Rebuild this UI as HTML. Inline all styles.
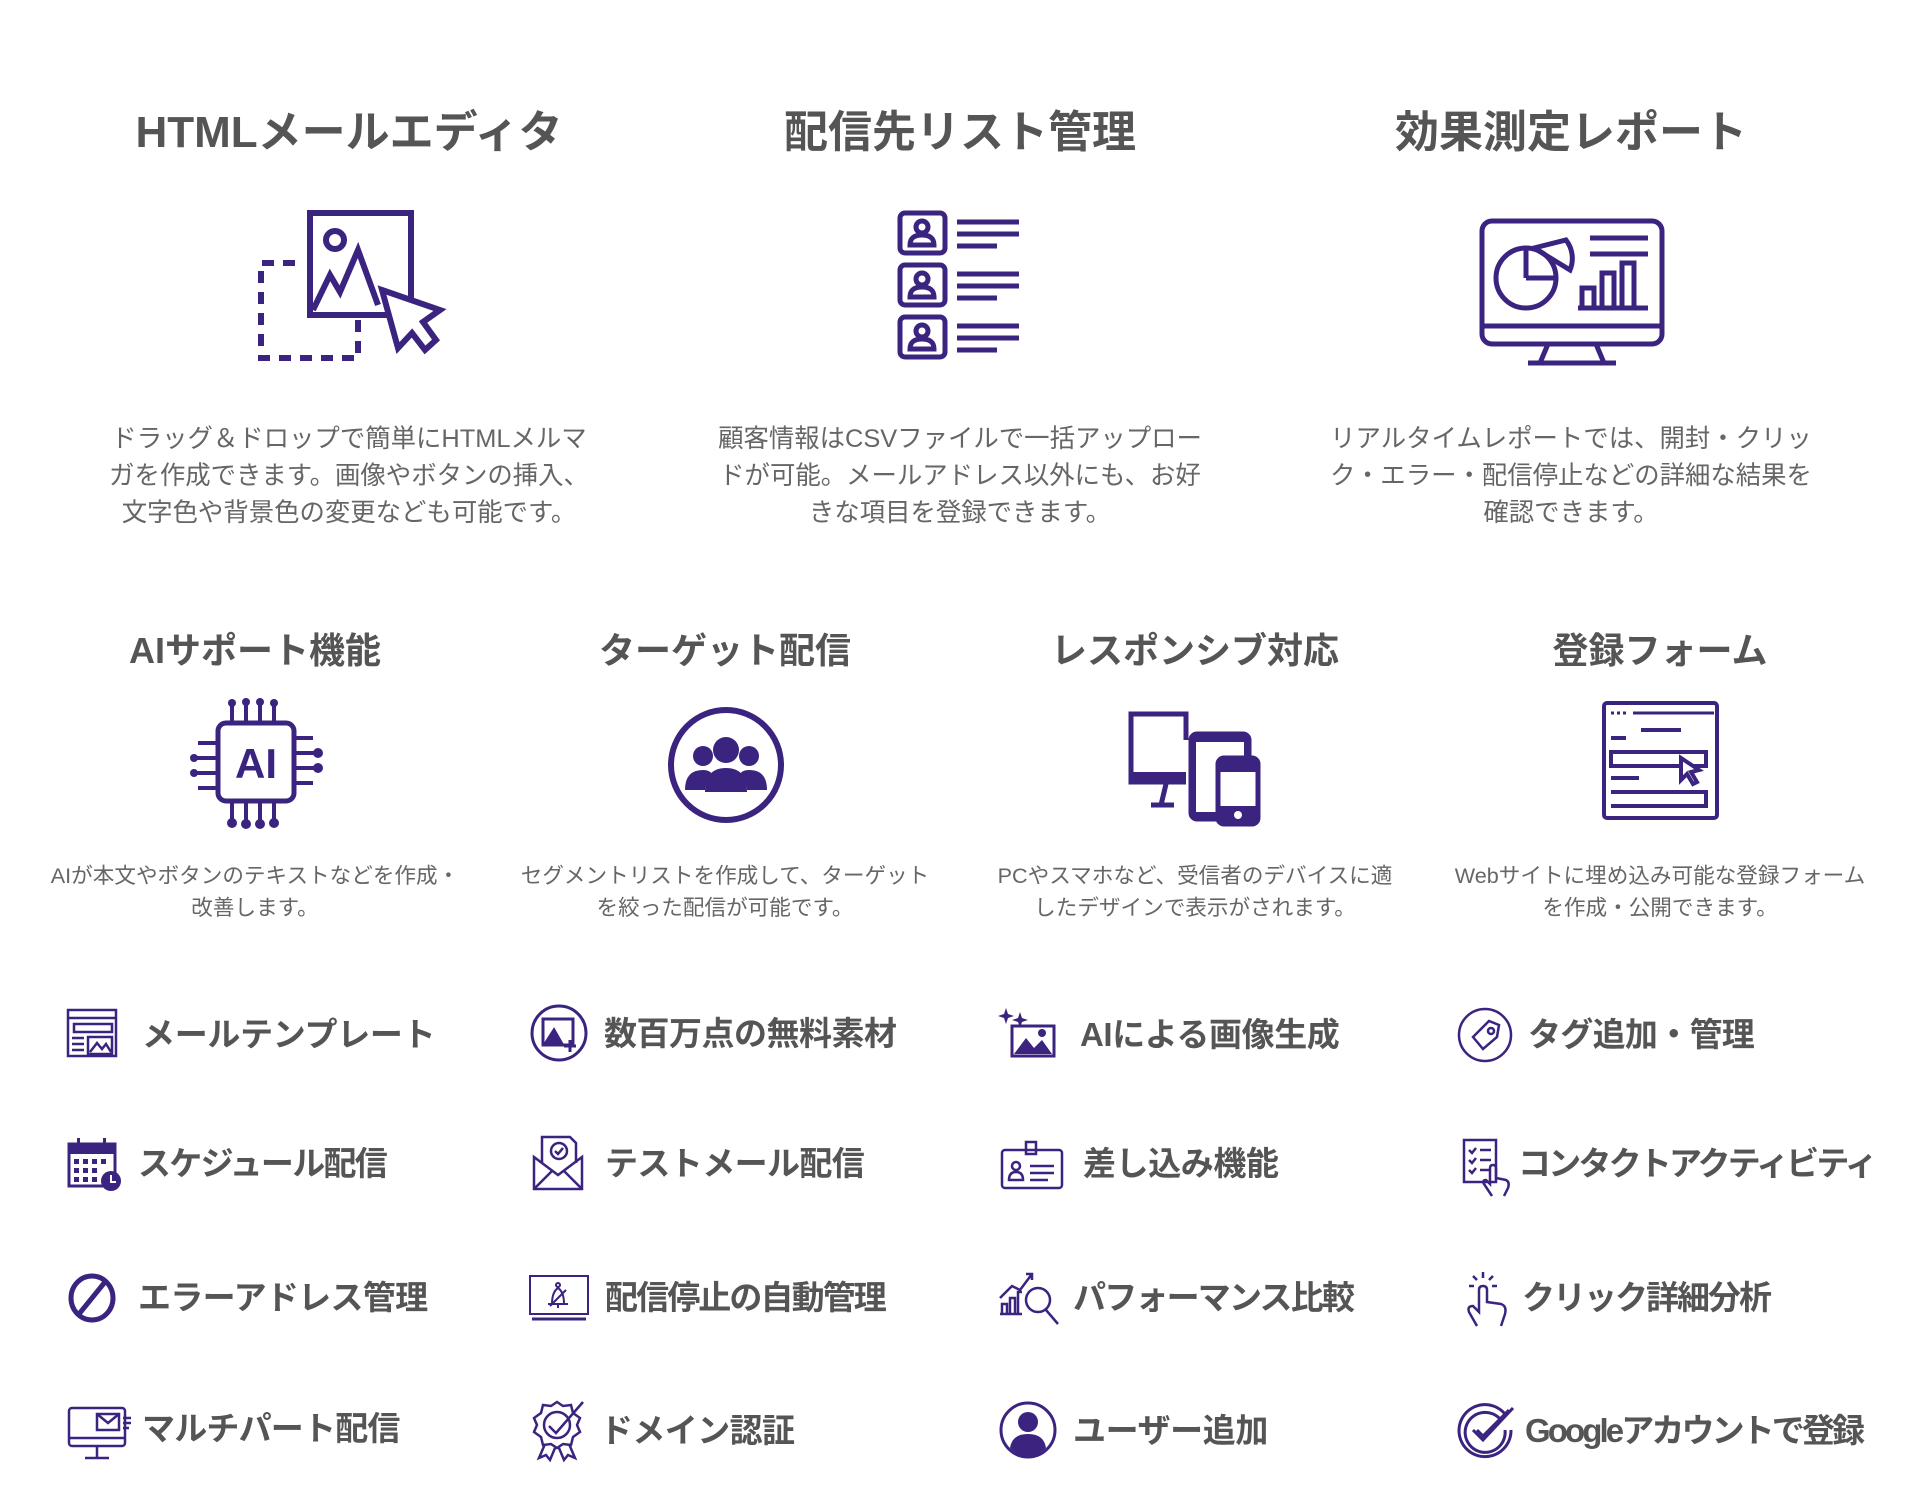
<!DOCTYPE html>
<html><head><meta charset="utf-8"><style>
html,body{margin:0;padding:0;background:#fff;width:1920px;height:1500px;overflow:hidden;position:relative;font-family:"Liberation Sans","Noto Sans CJK JP",sans-serif}
.t{position:absolute;transform:translateX(-50%);white-space:nowrap;font-weight:bold;color:#555;text-align:center}
.t1{font-size:44px;top:96px}
.t2{font-size:36px;top:622px}
.d{position:absolute;transform:translateX(-50%);text-align:center;color:#666;white-space:nowrap}
.d1{font-size:25.4px;line-height:37px;top:421px}
.d2{font-size:21.6px;line-height:32px;top:860px}
.ic{position:absolute}
.f{position:absolute;font-size:33px;font-weight:bold;color:#555;white-space:nowrap;line-height:40px}
svg{overflow:visible}
</style></head><body>
<div class="t t1" style="left:349px">HTMLメールエディタ</div>
<div class="t t1" style="left:960px">配信先リスト管理</div>
<div class="t t1" style="left:1571px">効果測定レポート</div>

<svg class="ic" style="left:258px;top:210px" width="180" height="155" viewBox="0 0 180 155" fill="none" stroke="#3b2380" stroke-width="6">
<rect x="52" y="3" width="101" height="102"/>
<circle cx="77" cy="30" r="9"/>
<path d="M55 100 L72 65 L82 82 L100 40 L120 95"/>
<path d="M124 80 L182 100 L165 112 L178 130 L167 140 L154 123 L140 138 Z" fill="#fff"/>
<path d="M37 53 H3 V148 H100 V110" stroke-dasharray="12 9"/>
</svg>

<svg class="ic" style="left:897px;top:210px" width="125" height="150" viewBox="0 0 125 150" fill="none" stroke="#3b2380" stroke-width="5">
<g><rect x="3" y="3" width="45" height="40" rx="5"/><circle cx="25" cy="17" r="6"/><path d="M13 35 Q13 25 25 25 Q37 25 37 35 Z"/><path d="M60 12H122M60 24H122M60 36H100"/></g>
<g transform="translate(0,52)"><rect x="3" y="3" width="45" height="40" rx="5"/><circle cx="25" cy="17" r="6"/><path d="M13 35 Q13 25 25 25 Q37 25 37 35 Z"/><path d="M60 12H122M60 24H122M60 36H100"/></g>
<g transform="translate(0,104)"><rect x="3" y="3" width="45" height="40" rx="5"/><circle cx="25" cy="17" r="6"/><path d="M13 35 Q13 25 25 25 Q37 25 37 35 Z"/><path d="M60 12H122M60 24H122M60 36H100"/></g>
</svg>

<svg class="ic" style="left:1478px;top:218px" width="188" height="150" viewBox="0 0 188 150" fill="none" stroke="#3b2380" stroke-width="5">
<rect x="4" y="3" width="180" height="123" rx="10"/>
<path d="M4 108H184"/>
<path d="M70 126 L62 145 M118 126 L126 145 M50 145H138"/>
<circle cx="48" cy="60" r="30"/>
<path d="M48 60 L48 30 M48 60 L78 60"/>
<path d="M56 30 L88 22 A30 30 0 0 1 92 52 Z"/>
<path d="M112 20H170M112 36H170M104 90V70H116V90M124 90V55H136V90M144 90V45H156V90M100 90H170"/>
</svg>

<div class="d d1" style="left:349px">ドラッグ＆ドロップで簡単にHTMLメルマ<br>ガを作成できます。画像やボタンの挿入、<br>文字色や背景色の変更なども可能です。</div>
<div class="d d1" style="left:960px">顧客情報はCSVファイルで一括アップロー<br>ドが可能。メールアドレス以外にも、お好<br>きな項目を登録できます。</div>
<div class="d d1" style="left:1571px">リアルタイムレポートでは、開封・クリッ<br>ク・エラー・配信停止などの詳細な結果を<br>確認できます。</div>

<div class="t t2" style="left:255px">AIサポート機能</div>
<div class="t t2" style="left:725px">ターゲット配信</div>
<div class="t t2" style="left:1195px">レスポンシブ対応</div>
<div class="t t2" style="left:1660px">登録フォーム</div>

<svg class="ic" style="left:188px;top:698px" width="135" height="132" viewBox="0 0 135 132" fill="none" stroke="#3b2380" stroke-width="4">
<rect x="30" y="25" width="76" height="78" rx="8" stroke-width="5"/>
<text x="68" y="80" font-size="42" font-weight="bold" fill="#3b2380" stroke="none" text-anchor="middle" font-family="Liberation Sans">AI</text>
<path d="M44 25V8M58 25V6M72 25V6M86 25V8M44 103V122M58 103V124M72 103V124M86 103V122M30 45H10M30 60H8M30 75H8M30 90H10M106 40H125M106 55H128M106 70H128M106 85H125"/>
<g fill="#3b2380" stroke="none"><circle cx="44" cy="5" r="4"/><circle cx="58" cy="4" r="4"/><circle cx="72" cy="4" r="4"/><circle cx="86" cy="5" r="4"/><circle cx="44" cy="125" r="5"/><circle cx="58" cy="126" r="5"/><circle cx="72" cy="126" r="5"/><circle cx="86" cy="125" r="5"/><circle cx="6" cy="60" r="4"/><circle cx="6" cy="75" r="4"/><circle cx="130" cy="55" r="5"/><circle cx="130" cy="70" r="5"/></g>
</svg>

<svg class="ic" style="left:667px;top:706px" width="118" height="118" viewBox="0 0 118 118">
<circle cx="59" cy="59" r="55" fill="none" stroke="#3b2380" stroke-width="6"/>
<g fill="#3b2380"><circle cx="59" cy="44" r="13"/><circle cx="36" cy="50" r="10"/><circle cx="82" cy="50" r="10"/>
<path d="M38 86 Q38 62 59 62 Q80 62 80 86 Z"/><path d="M18 84 Q18 64 36 64 Q44 64 46 70 Q38 76 38 84 Z"/><path d="M100 84 Q100 64 82 64 Q74 64 72 70 Q80 76 80 84 Z"/></g>
</svg>

<svg class="ic" style="left:1126px;top:710px" width="136" height="116" viewBox="0 0 136 116" fill="none" stroke="#3b2380" stroke-width="5">
<path d="M60 30V4H5V72H60" /><rect x="3" y="62" width="57" height="12" fill="#3b2380" stroke="none"/>
<path d="M40 74 L35 95 M25 95H48"/>
<rect x="65" y="24" width="58" height="85" rx="6" fill="#3b2380"/>
<rect x="70" y="32" width="48" height="70" fill="#fff" stroke="none"/>
<rect x="92" y="48" width="40" height="66" rx="6" fill="#fff"/>
<rect x="92" y="48" width="40" height="14" fill="#3b2380" stroke="none"/><rect x="92" y="96" width="40" height="18" fill="#3b2380" stroke="none"/>
<circle cx="112" cy="105" r="4" fill="#fff" stroke="none"/>
</svg>

<svg class="ic" style="left:1601px;top:700px" width="118" height="122" viewBox="0 0 118 122" fill="none" stroke="#3b2380" stroke-width="4">
<rect x="3" y="3" width="113" height="115" rx="3"/>
<path d="M32 13H113" stroke-width="3"/><path d="M10 13H28" stroke-dasharray="3 3" stroke-width="3"/>
<path d="M40 30H80M10 38H25M10 52H105V66H10ZM10 78H38M10 92H105V106H10" />
<path d="M80 58 L80 80 L86 74 L92 84 L96 82 L90 72 L98 70 Z" fill="#fff"/>
</svg>

<div class="d d2" style="left:255px">AIが本文やボタンのテキストなどを作成・<br>改善します。</div>
<div class="d d2" style="left:725px">セグメントリストを作成して、ターゲット<br>を絞った配信が可能です。</div>
<div class="d d2" style="left:1195px">PCやスマホなど、受信者のデバイスに適<br>したデザインで表示がされます。</div>
<div class="d d2" style="left:1660px">Webサイトに埋め込み可能な登録フォーム<br>を作成・公開できます。</div>

<svg class="ic" style="left:66px;top:1008px" width="52" height="52" viewBox="0 0 52 52" fill="none" stroke="#3b2380" stroke-width="2.5"><rect x="2" y="2" width="48" height="46"/><path d="M2 10H50M8 16H46V24H8ZM6 30H18M6 36H18M6 42H18M22 29H46V46H22ZM24 44L31 35L36 41L40 36L45 44"/></svg>
<svg class="ic" style="left:530px;top:1004px" width="58" height="58" viewBox="0 0 58 58" fill="none" stroke="#3b2380" stroke-width="3"><circle cx="29" cy="29" r="27"/><rect x="13" y="15" width="30" height="26"/><path d="M15 40L24 26L32 40Z" fill="#3b2380"/><path d="M40 36V48M34 42H46"/></svg>
<svg class="ic" style="left:998px;top:1008px" width="60" height="50" viewBox="0 0 60 50"><g fill="#3b2380"><path d="M8 0L10 6L16 8L10 10L8 16L6 10L0 8L6 6Z"/><path d="M22 4L24 10L30 12L24 14L22 20L20 14L14 12L20 10Z"/><rect x="14" y="18" width="42" height="30" fill="none" stroke="#3b2380" stroke-width="3"/><path d="M16 46L28 30L36 40L44 32L54 46Z"/><circle cx="44" cy="25" r="4"/></g></svg>
<svg class="ic" style="left:1457px;top:1007px" width="56" height="56" viewBox="0 0 56 56" fill="none" stroke="#3b2380" stroke-width="2.5"><circle cx="28" cy="28" r="26"/><path d="M16 30L32 14L42 18L40 30L26 42Z"/><circle cx="34" cy="24" r="3"/></svg>

<svg class="ic" style="left:67px;top:1138px" width="56" height="54" viewBox="0 0 56 54"><rect x="2" y="6" width="46" height="42" fill="none" stroke="#3b2380" stroke-width="3"/><rect x="2" y="6" width="46" height="10" fill="#3b2380"/><rect x="10" y="0" width="3" height="10" fill="#3b2380"/><rect x="36" y="0" width="3" height="10" fill="#3b2380"/><g fill="#3b2380"><rect x="7" y="21" width="5" height="5"/><rect x="16" y="21" width="5" height="5"/><rect x="25" y="21" width="5" height="5"/><rect x="34" y="21" width="5" height="5"/><rect x="7" y="30" width="5" height="5"/><rect x="16" y="30" width="5" height="5"/><rect x="25" y="30" width="5" height="5"/><rect x="7" y="39" width="5" height="5"/><rect x="16" y="39" width="5" height="5"/><rect x="25" y="39" width="5" height="5"/><circle cx="44" cy="43" r="10"/></g><path d="M44 37V44H49" stroke="#fff" stroke-width="2" fill="none"/></svg>
<svg class="ic" style="left:532px;top:1135px" width="54" height="56" viewBox="0 0 54 56" fill="none" stroke="#3b2380" stroke-width="2.5"><path d="M2 22V54H50V22L26 40Z"/><path d="M2 54L20 36M50 54L32 36"/><path d="M10 28V2H38L44 8V28"/><circle cx="27" cy="16" r="8"/><path d="M23 16L26 19L31 13"/></svg>
<svg class="ic" style="left:1000px;top:1140px" width="64" height="50" viewBox="0 0 64 50" fill="none" stroke="#3b2380" stroke-width="2.5"><rect x="2" y="10" width="60" height="38" rx="3"/><rect x="26" y="2" width="10" height="12"/><circle cx="16" cy="26" r="4"/><path d="M9 40Q9 32 16 32Q23 32 23 40Z"/><path d="M30 26H54M30 33H54M30 40H48"/></svg>
<svg class="ic" style="left:1462px;top:1138px" width="54" height="60" viewBox="0 0 54 60" fill="none" stroke="#3b2380" stroke-width="2.5"><rect x="2" y="2" width="32" height="42"/><path d="M7 12L10 15L14 10M18 12H29M7 22L10 25L14 20M18 22H29M7 32L10 35L14 30M18 32H29"/><path d="M30 58L22 46Q20 42 24 42L28 46V30Q28 27 31 27Q34 27 34 30V40L44 42Q48 44 46 50L42 58"/></svg>

<svg class="ic" style="left:67px;top:1272px" width="50" height="52" viewBox="0 0 50 52" fill="none" stroke="#3b2380" stroke-width="5"><ellipse cx="25" cy="26" rx="21" ry="22"/><path d="M38 10L12 42"/></svg>
<svg class="ic" style="left:528px;top:1274px" width="62" height="48" viewBox="0 0 62 48" fill="none" stroke="#3b2380" stroke-width="2"><rect x="2" y="2" width="58" height="38"/><path d="M4 45H58" stroke-width="3"/><path d="M24 30Q24 18 30 14Q36 18 36 30Z M20 30H40M30 30V34M22 32L38 16"/><circle cx="30" cy="11" r="2"/></svg>
<svg class="ic" style="left:998px;top:1270px" width="66" height="58" viewBox="0 0 66 58" fill="none" stroke="#3b2380" stroke-width="2.5"><path d="M2 44H24M4 44V34H9V44M12 44V28H17V44M20 44V22H24"/><path d="M2 28L14 16L22 20L34 4M28 4H34V10"/><circle cx="40" cy="30" r="12"/><path d="M48 40L60 54"/></svg>
<svg class="ic" style="left:1465px;top:1268px" width="44" height="60" viewBox="0 0 44 60" fill="none" stroke="#3b2380" stroke-width="2.5"><path d="M12 58L4 44Q2 38 8 38L14 44V22Q14 18 18 18Q22 18 22 22V34L36 36Q42 38 40 46L36 58"/><path d="M18 4V10M8 8L12 12M28 8L24 12M4 18H9M27 18H32"/></svg>

<svg class="ic" style="left:67px;top:1404px" width="68" height="56" viewBox="0 0 68 56" fill="none" stroke="#3b2380" stroke-width="2.5"><rect x="2" y="4" width="56" height="38" rx="3"/><path d="M2 34H58M30 42V54M18 54H42"/><rect x="30" y="10" width="22" height="16" fill="#fff"/><path d="M30 10L41 19L52 10M56 14H64M56 19H64M56 24H62"/></svg>
<svg class="ic" style="left:533px;top:1400px" width="52" height="62" viewBox="0 0 52 62" fill="none" stroke="#3b2380" stroke-width="2.5"><path d="M24 2L30 6L38 5L40 13L47 18L44 25L47 32L40 37L38 45L30 44L24 48L18 44L10 45L8 37L1 32L4 25L1 18L8 13L10 5L18 6Z"/><circle cx="24" cy="25" r="13"/><path d="M16 26L23 33L50 2"/><path d="M12 44L6 58L13 55L17 60L22 48M36 44L42 58L35 55L31 60L26 48"/></svg>
<svg class="ic" style="left:998px;top:1400px" width="60" height="60" viewBox="0 0 60 60"><circle cx="30" cy="30" r="27" fill="none" stroke="#3b2380" stroke-width="3"/><circle cx="30" cy="22" r="10" fill="#3b2380"/><path d="M12 48Q14 34 30 34Q46 34 48 48Q40 56 30 56Q20 56 12 48Z" fill="#3b2380"/></svg>
<svg class="ic" style="left:1455px;top:1400px" width="62" height="62" viewBox="0 0 62 62" fill="none" stroke="#3b2380" stroke-width="3"><path d="M50 14A26 26 0 1 0 56 30"/><path d="M45 19A20 20 0 1 0 50 30"/><path d="M18 30L28 40L58 8"/><path d="M22 30L28 36L54 10"/></svg>

<div class="f" style="left:142px;top:1015px;letter-spacing:-0.3px">メールテンプレート</div>
<div class="f" style="left:604px;top:1014px;letter-spacing:-0.5px">数百万点の無料素材</div>
<div class="f" style="left:1080px;top:1015px;letter-spacing:-0.4px">AIによる画像生成</div>
<div class="f" style="left:1528px;top:1015px;letter-spacing:-0.7px">タグ追加・管理</div>

<div class="f" style="left:138px;top:1144px;letter-spacing:-1.7px">スケジュール配信</div>
<div class="f" style="left:605px;top:1144px;letter-spacing:-0.6px">テストメール配信</div>
<div class="f" style="left:1083px;top:1144px;letter-spacing:-0.4px">差し込み機能</div>
<div class="f" style="left:1518px;top:1144px;letter-spacing:-2.8px">コンタクトアクティビティ</div>

<div class="f" style="left:138px;top:1278px;letter-spacing:-0.7px">エラーアドレス管理</div>
<div class="f" style="left:605px;top:1278px;letter-spacing:-1.9px">配信停止の自動管理</div>
<div class="f" style="left:1073px;top:1278px;letter-spacing:-1.8px">パフォーマンス比較</div>
<div class="f" style="left:1522px;top:1278px;letter-spacing:-2px">クリック詳細分析</div>

<div class="f" style="left:142px;top:1409px;letter-spacing:-0.8px">マルチパート配信</div>
<div class="f" style="left:600px;top:1411px;letter-spacing:-0.6px">ドメイン認証</div>
<div class="f" style="left:1073px;top:1411px;letter-spacing:-0.4px">ユーザー追加</div>
<div class="f" style="left:1525px;top:1411px;letter-spacing:-2.9px">Googleアカウントで登録</div>
</body></html>
